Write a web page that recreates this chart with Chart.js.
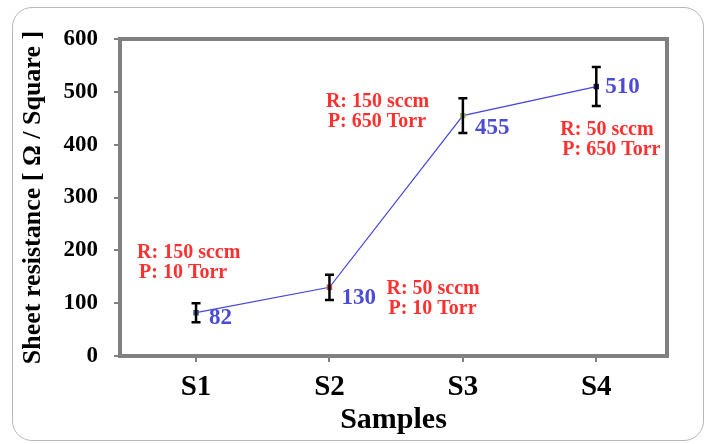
<!DOCTYPE html>
<html>
<head>
<meta charset="utf-8">
<script src="https://cdn.jsdelivr.net/npm/chart.js@4"></script>
<style>
  body { margin: 0; background: #fff; }
  #wrap { position: relative; width: 706px; height: 444px; }
  #frame {
    position: absolute; left: 12px; top: 7px; width: 692px; height: 434px;
    border: 1.5px solid #b8b8b8; border-radius: 20px; box-sizing: border-box;
  }
  canvas { position: absolute; left: 0; top: 0; }
</style>
</head>
<body>
<div id="wrap">
  <div id="frame"></div>
  <canvas id="chart" width="706" height="444"></canvas>
</div>
<script>
const samples = ["S1", "S2", "S3", "S4"];
const resistance = [82, 130, 455, 510];
const errors = [18, 24, 33, 37];
const valueLabels = ["82", "130", "455", "510"];
const conditions = [
  ["R: 150 sccm", "P: 10 Torr"],
  ["R: 50 sccm", "P: 10 Torr"],
  ["R: 150 sccm", "P: 650 Torr"],
  ["R: 50 sccm", "P: 650 Torr"],
];
const yTicks = [0, 100, 200, 300, 400, 500, 600];
const markerColors = ["#3a5ea8", "#c0504d", "#9bbb59", "#1f1f5f"];

const serif = "'Liberation Serif', 'Times New Roman', serif";

// offsets (px) of the labels from each point
const valueOffsets = [[13, 5], [12, 11], [12, 12], [9, 1]];
const noteOffsets = [[-59, -60], [57, 2], [-137, -14], [-36, 43]];

const extras = {
  id: "extras",
  afterDatasetsDraw(chart) {
    const ctx = chart.ctx;
    const xs = chart.scales.x;
    const ys = chart.scales.y;
    const area = chart.chartArea;

    // plot frame
    ctx.save();
    ctx.strokeStyle = "#808080";
    ctx.lineWidth = 4;
    ctx.strokeRect(area.left, area.top, area.right - area.left, area.bottom - area.top);

    // error bars
    ctx.strokeStyle = "#000";
    ctx.lineWidth = 2.5;
    resistance.forEach((v, i) => {
      const x = xs.getPixelForValue(i + 1);
      const yt = ys.getPixelForValue(v + errors[i]);
      const yb = ys.getPixelForValue(v - errors[i]);
      ctx.beginPath();
      ctx.moveTo(x, yt); ctx.lineTo(x, yb);
      ctx.moveTo(x - 4.5, yt); ctx.lineTo(x + 4.5, yt);
      ctx.moveTo(x - 4.5, yb); ctx.lineTo(x + 4.5, yb);
      ctx.stroke();
    });

    // value labels
    ctx.font = "bold 23px " + serif;
    ctx.fillStyle = "#4b4bd6";
    ctx.textBaseline = "middle";
    ctx.textAlign = "left";
    resistance.forEach((v, i) => {
      const x = xs.getPixelForValue(i + 1);
      const y = ys.getPixelForValue(v);
      ctx.fillText(valueLabels[i], x + valueOffsets[i][0], y + valueOffsets[i][1]);
    });

    // growth conditions
    ctx.font = "bold 20px " + serif;
    ctx.fillStyle = "#ff3030";
    resistance.forEach((v, i) => {
      const x = xs.getPixelForValue(i + 1) + noteOffsets[i][0];
      const y = ys.getPixelForValue(v) + noteOffsets[i][1];
      ctx.fillText(conditions[i][0], x, y);
      ctx.fillText(conditions[i][1], x + 2, y + 20);
    });
    ctx.restore();
  }
};

new Chart(document.getElementById("chart"), {
  type: "line",
  data: {
    datasets: [{
      data: resistance.map((v, i) => ({ x: i + 1, y: v })),
      borderColor: "#4444e0",
      borderWidth: 1.2,
      pointStyle: "rect",
      pointRadius: 3,
      pointBackgroundColor: markerColors,
      pointBorderColor: markerColors,
      tension: 0,
    }],
  },
  plugins: [extras],
  options: {
    responsive: false,
    animation: false,
    layout: { padding: { top: 39, right: 39, left: 0, bottom: 0 } },
    plugins: { legend: { display: false }, tooltip: { enabled: false } },
    scales: {
      x: {
        type: "linear",
        min: 0.43,
        max: 4.53,
        afterFit(scale) { scale.height = 88; },
        afterBuildTicks(scale) { scale.ticks = samples.map((s, i) => ({ value: i + 1 })); },
        ticks: {
          autoSkip: false,
          maxRotation: 0,
          padding: 8,
          color: "#000",
          font: { family: serif, size: 29, weight: "bold" },
          callback: (v) => samples[v - 1],
        },
        grid: { display: true, drawOnChartArea: false, tickLength: 6, color: "#808080", lineWidth: 2 },
        border: { display: false },
        title: {
          display: true,
          text: "Samples",
          color: "#000",
          font: { family: serif, size: 30, weight: "bold" },
          padding: { top: 0, bottom: 6 },
        },
      },
      y: {
        min: 0,
        max: 600,
        afterFit(scale) { scale.width = 120; },
        afterBuildTicks(scale) { scale.ticks = yTicks.map((v) => ({ value: v })); },
        ticks: {
          padding: 16,
          color: "#000",
          font: { family: serif, size: 23, weight: "bold" },
        },
        grid: { display: true, drawOnChartArea: false, tickLength: 6, color: "#808080", lineWidth: 2 },
        border: { display: false },
        title: {
          display: true,
          text: "Sheet resistance [ Ω / Square ]",
          color: "#000",
          font: { family: serif, size: 26, weight: "bold" },
          padding: { top: 18, bottom: 0 },
        },
      },
    },
  },
});
</script>
</body>
</html>
